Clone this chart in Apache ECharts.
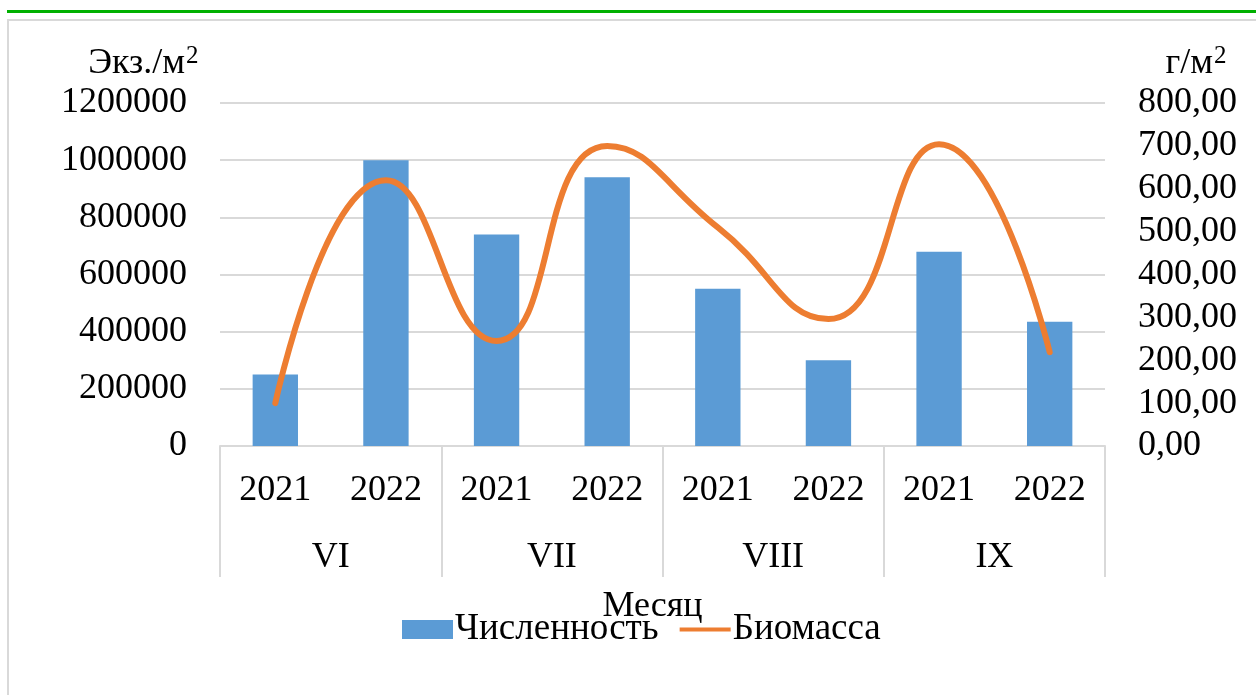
<!DOCTYPE html>
<html>
<head>
<meta charset="utf-8">
<script src="https://cdn.jsdelivr.net/npm/echarts@6/dist/echarts.min.js"></script>
<style>
  html, body { margin: 0; padding: 0; background: #fff; }
  #chart { width: 1256px; height: 695px; }
</style>
</head>
<body>
<div id="chart"></div>
<script>
const years = ['2021', '2022', '2021', '2022', '2021', '2022', '2021', '2022'];
const months = ['VI', 'VII', 'VIII', 'IX'];
const abundance = [250000, 1000000, 740000, 940000, 550000, 300000, 680000, 435000];
const biomass = [100, 620, 245, 700, 510, 296, 704, 219];

const FONT = '"Liberation Serif", "Times New Roman", serif';
const FS = 36;
const chart = echarts.init(document.getElementById('chart'));

// thin horizontal bar inside a 51x19 box (corner dots keep the box size)
const lineIcon = 'path://M0,0L0.01,0M0,7.5L51,7.5L51,11.5L0,11.5ZM51,19L50.99,19';

const option = {
  animation: false,
  textStyle: { fontFamily: FONT, color: '#000' },
  grid: { left: 220, right: 151, top: 103, bottom: 249 },
  graphic: [
    { type: 'rect', shape: { x: 8, y: 20, width: 1300, height: 700 }, style: { fill: 'none', stroke: '#d9d9d9', lineWidth: 2 } },
    { type: 'rect', shape: { x: 7, y: 10, width: 1260, height: 3 }, style: { fill: '#00b000' } },
    { type: 'text', x: 185, y: 64, style: { text: 'Экз./м', font: FS + 'px ' + FONT, fill: '#000', align: 'right', verticalAlign: 'middle' } },
    { type: 'text', x: 186, y: 56, style: { text: '2', font: '25px ' + FONT, fill: '#000', align: 'left', verticalAlign: 'middle' } },
    { type: 'text', x: 1213, y: 64, style: { text: 'г/м', font: FS + 'px ' + FONT, fill: '#000', align: 'right', verticalAlign: 'middle' } },
    { type: 'text', x: 1214, y: 56, style: { text: '2', font: '25px ' + FONT, fill: '#000', align: 'left', verticalAlign: 'middle' } }
  ],
  legend: {
    bottom: 42,
    left: 397,
    itemWidth: 51,
    itemHeight: 19,
    itemGap: 21,
    textStyle: { fontFamily: FONT, fontSize: 37, color: '#000', padding: [0, 0, 0, -3] },
    data: [
      { name: 'Численность', icon: 'rect' },
      { name: 'Биомасса', icon: lineIcon }
    ]
  },
  xAxis: [
    {
      type: 'category',
      data: years,
      position: 'bottom',
      axisLine: { show: true, lineStyle: { color: '#d9d9d9', width: 2 } },
      axisTick: { show: false },
      axisLabel: { fontSize: FS, color: '#000', margin: 27, fontFamily: FONT }
    },
    {
      type: 'category',
      data: months,
      position: 'bottom',
      offset: 0,
      axisLine: { show: false },
      axisTick: { show: true, length: 131, interval: 0, lineStyle: { color: '#d9d9d9', width: 2 } },
      axisLabel: { fontSize: FS, color: '#000', margin: 94, fontFamily: FONT, interval: 0 },
      name: 'Месяц',
      nameLocation: 'middle',
      nameGap: 143,
      nameTextStyle: { fontSize: FS, color: '#000', fontFamily: FONT, padding: [0, 20, 0, 0] }
    }
  ],
  yAxis: [
    {
      type: 'value',
      min: 0,
      max: 1200000,
      interval: 200000,
      axisLine: { show: false },
      axisTick: { show: false },
      axisLabel: { fontSize: FS, color: '#000', margin: 33, fontFamily: FONT, formatter: v => String(v) },
      splitLine: { lineStyle: { color: '#d9d9d9', width: 2 } }
    },
    {
      type: 'value',
      min: 0,
      max: 800,
      interval: 100,
      axisLine: { show: false },
      axisTick: { show: false },
      splitLine: { show: false },
      axisLabel: {
        fontSize: FS, color: '#000', margin: 33, fontFamily: FONT,
        formatter: v => v.toFixed(2).replace('.', ',')
      }
    }
  ],
  series: [
    {
      name: 'Численность',
      type: 'bar',
      xAxisIndex: 0,
      yAxisIndex: 0,
      barWidth: '41%',
      itemStyle: { color: '#5b9bd5' },
      data: abundance
    },
    {
      name: 'Биомасса',
      type: 'line',
      xAxisIndex: 0,
      yAxisIndex: 1,
      smooth: 0.5,
      symbol: 'none',
      lineStyle: { color: '#ed7d31', width: 6, cap: 'round' },
      itemStyle: { color: '#ed7d31' },
      data: biomass
    }
  ]
};

chart.setOption(option);
</script>
</body>
</html>
